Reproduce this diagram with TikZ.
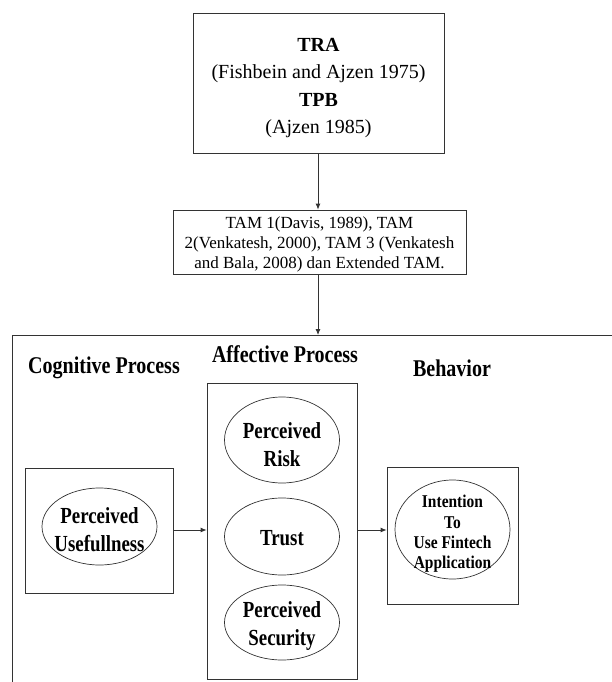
\documentclass[tikz,border=0pt]{standalone}
\usepackage{fontspec}
\setmainfont{Liberation Serif}
\newfontfamily\condbf[FakeStretch=0.835]{Liberation Serif Bold}
\newfontfamily\condbfb[FakeStretch=0.82]{Liberation Serif Bold}
\newfontfamily\condbfc[FakeStretch=0.86]{Liberation Serif Bold}
\usetikzlibrary{shapes.geometric,arrows.meta}
\tikzset{
  box/.style={draw=black!80,line width=0.8pt,rectangle,inner sep=0pt},
  oval/.style={draw=black!80,line width=0.7pt,ellipse,inner sep=0pt},
  conn/.style={draw=black!80,line width=0.8pt,-{Latex[length=6pt,width=5pt]}},
  head/.style={font=\condbf\fontsize{24}{28}\selectfont,anchor=center},
  ovtext/.style={align=center,font=\condbfb\fontsize{23}{28}\selectfont},
}
\begin{document}
\begin{tikzpicture}[x=1pt,y=-1pt]
\useasboundingbox (0,0) rectangle (612,682);
% top box
\node[box,minimum width=251pt,minimum height=140pt] (tra) at (318.5,83) {};
\node[align=center,font=\fontsize{20}{27.3}\selectfont] (tratext) at (318.5,88)
  {\textbf{TRA}\\(Fishbein and Ajzen 1975)\\\textbf{TPB}\\(Ajzen 1985)};
% TAM box
\node[box,minimum width=293pt,minimum height=64pt] (tam) at (319.5,242) {};
\node[align=center,font=\fontsize{17}{20}\selectfont] (tamtext) at (319.5,244)
  {TAM 1(Davis, 1989), TAM\\2(Venkatesh, 2000), TAM 3 (Venkatesh\\and Bala, 2008) dan Extended TAM.};
% outer frame
\coordinate (frtop) at (318,335);
\draw[draw=black!80,line width=0.8pt] (12,682) -- (12,335) -- (612,335);
\draw[conn] (tra.south -| frtop) -- (tam.north -| frtop);
\draw[conn] (tam.south -| frtop) -- (frtop);
% headings
\node[head] (hcog) at (104,368) {Cognitive Process};
\node[head] (haff) at (285,354) {Affective Process};
\node[head] (hbeh) at (452,368) {Behavior};
% cognitive
\node[box,minimum width=148pt,minimum height=125pt] (cog) at (99,530.5) {};
\node[oval,minimum width=115pt,minimum height=77pt] (pu) at (99.5,526.5) {};
\node[ovtext] (putext) at ([yshift=-3pt]pu.center) {Perceived\\Usefullness};
% affective
\node[box,minimum width=150pt,minimum height=296pt] (aff) at (282,531) {};
\node[oval,minimum width=115pt,minimum height=86pt] (pr) at (282,440) {};
\node[ovtext] (prtext) at ([yshift=-5pt]pr.center) {Perceived\\Risk};
\node[oval,minimum width=115pt,minimum height=77pt] (tr) at (282,536.5) {};
\node[ovtext] (trtext) at ([yshift=-1.5pt]tr.center) {Trust};
\node[oval,minimum width=115pt,minimum height=75pt] (ps) at (282,622.5) {};
\node[ovtext] (pstext) at ([yshift=-3.5pt]ps.center) {Perceived\\Security};
% behavior
\node[box,minimum width=131pt,minimum height=137pt] (beh) at (452.5,535.5) {};
\node[oval,minimum width=115pt,minimum height=99pt] (it) at (452.5,529.5) {};
\node[align=center,font=\condbfc\fontsize{18}{20.3}\selectfont] (ittext) at ([yshift=-4.5pt]it.center) {Intention\\To\\Use Fintech\\Application};
% connectors
\draw[conn] (cog.east |- 0,530) -- (aff.west |- 0,530);
\draw[conn] (aff.east |- 0,530) -- (beh.west |- 0,530);
\end{tikzpicture}
\end{document}
